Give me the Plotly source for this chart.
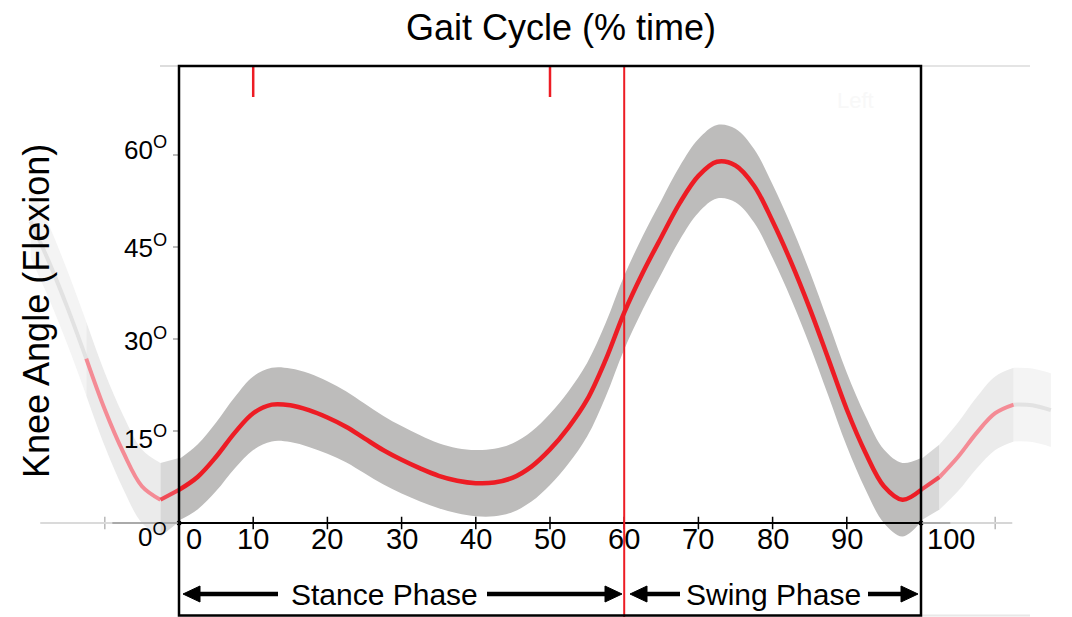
import plotly.graph_objects as go

# ---------------- data ----------------
pct = [0, 2.5, 5, 7.5, 10, 12.5, 15, 17.5, 20, 22.5, 25, 27.5, 30, 32.5, 35, 37.5,
       40, 42.5, 45, 47.5, 50, 52.5, 55, 57.5, 60, 62.5, 65, 67.5, 70, 72.5, 75,
       77.5, 80, 82.5, 85, 87.5, 90, 92.5, 95, 97.5, 100]
knee_mean = [5.4, 7.5, 10.8, 14.7, 17.9, 19.3, 19.2, 18.4, 17.2, 15.7, 13.8, 11.9,
             10.3, 8.9, 7.7, 6.9, 6.5, 6.6, 7.4, 9.2, 12.0, 15.6, 20.1, 26.6, 34.3,
             40.8, 46.6, 52.2, 56.6, 58.9, 58.3, 55.0, 49.2, 42.5, 35.0, 26.8, 18.5,
             11.5, 6.0, 3.8, 5.4]
knee_sd = [5.0, 5.3, 5.6, 5.8, 6.0, 6.0, 6.0, 6.0, 5.9, 5.8, 5.7, 5.6, 5.5, 5.4,
           5.3, 5.3, 5.4, 5.5, 5.6, 5.7, 5.8, 5.9, 6.0, 6.0, 6.0, 6.0, 6.0, 6.0,
           6.0, 6.0, 6.0, 6.0, 6.0, 6.0, 6.0, 6.0, 6.0, 6.0, 6.0, 6.0, 5.2]

x_tick_vals = [0, 10, 20, 30, 40, 50, 60, 70, 80, 90, 100]
x_tick_text = ["0", "10", "20", "30", "40", "50", "60", "70", "80", "90", "100"]
x_ghost_ticks = [-10, 110]
y_tick_vals = [0, 15, 30, 45, 60]
y_tick_text = [f"{v}<sup>O</sup>" for v in y_tick_vals]
event_marks = [10, 50]
toe_off = 60
phase_names = ["Stance Phase", "Swing Phase"]
title_text = "Gait Cycle (% time)"
ytitle_text = "Knee Angle (Flexion)"

# ---------------- geometry / style ----------------
W, H = 1072, 617
X0PX, X100PX = 179, 921
PXU = (X100PX - X0PX) / 100.0
Y0PX, PXD = 523, 6.133
xr = [-X0PX / PXU, (W - X0PX) / PXU]
yr = [-(H - Y0PX) / PXD, Y0PX / PXD]
RED = "#ed1c24"
BAND = "#bdbcbb"
FONT = "Liberation Sans, Arial, Helvetica, sans-serif"


def px(x):
    return x / W


def py(y):
    return 1 - y / H


upper = [m + s for m, s in zip(knee_mean, knee_sd)]
lower = [m - s for m, s in zip(knee_mean, knee_sd)]

fig = go.Figure()


def band(xs, lo, up, color):
    fig.add_trace(go.Scatter(x=xs, y=lo, mode="lines", line=dict(width=0, shape="spline"),
                             hoverinfo="skip", showlegend=False))
    fig.add_trace(go.Scatter(x=xs, y=up, mode="lines", line=dict(width=0, shape="spline"),
                             fill="tonexty", fillcolor=color, hoverinfo="skip", showlegend=False))


def seg(lo_x, hi_x, shift):
    idx = [i for i, p in enumerate(pct) if lo_x <= p <= hi_x]
    return ([pct[i] + shift for i in idx], [knee_mean[i] for i in idx],
            [lower[i] for i in idx], [upper[i] for i in idx])


# ghost of previous cycle (left) and next cycle (right)
ghost_parts = [
    (80, 87.5, -100, "#f4f4f4", "#e2e2e2"),
    (87.5, 97.5, -100, "#ebebeb", "#f48b95"),
    (97.5, 100, -100, "#d8d8d8", "#f04a55"),
    (0, 2.5, 100, "#d8d8d8", "#f04a55"),
    (2.5, 12.5, 100, "#ebebeb", "#f48b95"),
    (12.5, 17.5, 100, "#f4f4f4", "#e2e2e2"),
]
for lo_x, hi_x, sh, bc, lc in ghost_parts:
    gx, gm, gl, gu = seg(lo_x, hi_x, sh)
    band(gx, gl, gu, bc)
for lo_x, hi_x, sh, bc, lc in ghost_parts:
    gx, gm, gl, gu = seg(lo_x, hi_x, sh)
    fig.add_trace(go.Scatter(x=gx, y=gm, mode="lines", line=dict(color=lc, width=4, shape="spline"),
                             hoverinfo="skip", showlegend=False))

# main band and mean
band(pct, lower, upper, BAND)
fig.add_trace(go.Scatter(x=pct, y=knee_mean, mode="lines",
                         line=dict(color=RED, width=4.5, shape="spline"),
                         name="Mean knee angle", showlegend=False))

# tick crosses on the zero line
fig.add_trace(go.Scatter(x=x_tick_vals[1:-1], y=[0] * (len(x_tick_vals) - 2), mode="markers",
                         marker=dict(symbol="cross-thin", size=9, line=dict(color="black", width=1.5)),
                         hoverinfo="skip", showlegend=False))
fig.add_trace(go.Scatter(x=x_ghost_ticks, y=[0, 0], mode="markers",
                         marker=dict(symbol="cross-thin", size=9, line=dict(color="#b8b8b8", width=1.5)),
                         hoverinfo="skip", showlegend=False))
fig.add_trace(go.Scatter(x=[x_tick_vals[0], x_tick_vals[-1]], y=[0, 0], mode="markers",
                         marker=dict(symbol="circle", size=5, color="black"),
                         hoverinfo="skip", showlegend=False))

shapes = []
top_p = py(66)
bot_p = py(615.5)
# faint guide lines outside the box
shapes += [
    dict(type="line", xref="x", yref="y", x0=-18.7, x1=-9, y0=0, y1=0, line=dict(color="#dadada", width=2)),
    dict(type="line", xref="x", yref="y", x0=-9, x1=0, y0=0, y1=0, line=dict(color="#aaaaaa", width=2)),
    dict(type="line", xref="x", yref="y", x0=100, x1=104, y0=0, y1=0, line=dict(color="#aaaaaa", width=2)),
    dict(type="line", xref="x", yref="y", x0=104, x1=112.3, y0=0, y1=0, line=dict(color="#d6d6d6", width=2)),
    dict(type="line", xref="paper", yref="paper", x0=px(160), x1=px(179), y0=top_p, y1=top_p,
         line=dict(color="#dddddd", width=2)),
    dict(type="line", xref="paper", yref="paper", x0=px(921), x1=px(1030), y0=top_p, y1=top_p,
         line=dict(color="#e4e4e4", width=2)),
    dict(type="line", xref="paper", yref="paper", x0=px(921), x1=px(1030), y0=bot_p, y1=bot_p,
         line=dict(color="#e8e8e8", width=2)),
]
# black zero line inside box
shapes.append(dict(type="line", xref="x", yref="y", x0=0, x1=100, y0=0, y1=0,
                   line=dict(color="black", width=2)))
# y tick marks (gray, left of box)
for v in y_tick_vals[1:]:
    shapes.append(dict(type="line", xref="paper", yref="y", x0=px(173), x1=px(178), y0=v, y1=v,
                       line=dict(color="#bbbbbb", width=2)))
# red event marks
for e in event_marks:
    shapes.append(dict(type="line", xref="x", yref="paper", x0=e, x1=e, y0=py(97), y1=top_p,
                       line=dict(color=RED, width=2.5)))
shapes.append(dict(type="line", xref="x", yref="paper", x0=toe_off, x1=toe_off, y0=0, y1=top_p,
                   line=dict(color=RED, width=2)))
# box
shapes.append(dict(type="rect", xref="x", yref="paper", x0=0, x1=100, y0=bot_p, y1=top_p,
                   line=dict(color="black", width=2.5), fillcolor="rgba(0,0,0,0)"))

# phase arrows (line + filled head)
ARROW_PY = 594
HEAD_L, HEAD_H = 17, 8
phase_spans = [(183, 278, 384, 487, 622), (630, 680, 773, 868, 918)]
for ltip, ltail, cx, rtail, rtip in phase_spans:
    for tip, tail in [(ltip, ltail), (rtip, rtail)]:
        d = 1 if tail > tip else -1
        base = tip + d * HEAD_L
        shapes.append(dict(type="line", xref="paper", yref="paper", x0=px(base), x1=px(tail),
                           y0=py(ARROW_PY), y1=py(ARROW_PY), line=dict(color="black", width=4.5)))
        path = (f"M {px(tip)},{py(ARROW_PY)} L {px(base)},{py(ARROW_PY - HEAD_H)} "
                f"L {px(base)},{py(ARROW_PY + HEAD_H)} Z")
        shapes.append(dict(type="path", xref="paper", yref="paper", path=path,
                           fillcolor="black", line=dict(color="black", width=1)))
for s in shapes:
    s.setdefault("layer", "above")

annotations = []
# x tick labels
x_label_shift = {0: 15, 100: 30}
for v, t in zip(x_tick_vals, x_tick_text):
    annotations.append(dict(x=v, y=py(539), xref="x", yref="paper", text=t, showarrow=False,
                            xanchor="center", yanchor="middle",
                            xshift=x_label_shift.get(v, 0), font=dict(size=29, color="black", family=FONT)))
# y tick labels
y_label_shift = {60: 7, 45: 1, 30: 0, 15: -6, 0: -12}
for v, t in zip(y_tick_vals, y_tick_text):
    annotations.append(dict(x=px(169), y=v, xref="paper", yref="y", text=t, showarrow=False,
                            xanchor="right", yanchor="middle", yshift=y_label_shift.get(v, 0),
                            font=dict(size=26, color="black", family=FONT)))
# titles
annotations.append(dict(x=px(561), y=py(28), xref="paper", yref="paper", text=title_text, showarrow=False,
                        xanchor="center", yanchor="middle",
                        font=dict(size=36, color="black", family=FONT)))
annotations.append(dict(x=px(36), y=py(311), xref="paper", yref="paper", text=ytitle_text, showarrow=False,
                        xanchor="center", yanchor="middle",
                        textangle=-90, font=dict(size=36, color="black", family=FONT)))
annotations.append(dict(x=px(855), y=py(100), xref="paper", yref="paper", text="Left", showarrow=False,
                        xanchor="center", yanchor="middle",
                        font=dict(size=22, color="#f8f8f8", family=FONT)))
# phase labels
for name, (ltip, ltail, cx, rtail, rtip) in zip(phase_names, phase_spans):
    annotations.append(dict(x=px(cx), y=py(ARROW_PY), xref="paper", yref="paper", text=name, showarrow=False,
                            xanchor="center", yanchor="middle",
                            font=dict(size=30, color="black", family=FONT)))

fig.update_layout(
    width=W, height=H,
    margin=dict(l=0, r=0, t=0, b=0),
    paper_bgcolor="white", plot_bgcolor="white",
    showlegend=False,
    xaxis=dict(range=xr, domain=[0, 1], visible=False, fixedrange=True),
    yaxis=dict(range=yr, domain=[0, 1], visible=False, fixedrange=True),
    shapes=shapes,
    annotations=annotations,
)

fig.write_html("out.html", config={"displayModeBar": False},
               post_script="document.body.style.margin='0px';document.body.style.overflow='hidden';")
